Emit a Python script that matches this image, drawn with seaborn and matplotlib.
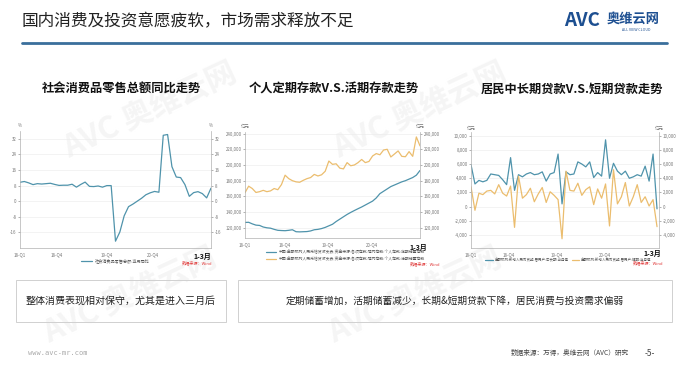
import numpy as np
import pandas as pd
import matplotlib.pyplot as plt
import seaborn as sns
from matplotlib.patches import Rectangle
from matplotlib.lines import Line2D

sns.set_style("white")
plt.rcParams['font.family'] = ['Noto Sans CJK SC', 'DejaVu Sans']

# ---- data ----
# chart 1: retail sales yoy (%), 18-Q1 .. 2022 Jan-Feb
retail_yoy = [9.7, 10.1, 9.4, 8.5, 9.0, 8.8, 9.0, 9.2, 8.6, 8.1, 8.2,
              8.2, 8.7, 7.2, 8.6, 9.8, 7.6, 7.5, 7.8, 7.2, 8.0, 8.0,
              -20.5, -15.8, -7.5, -2.8, -1.5, 0.0, 1.5, 3.3, 4.3, 5.0, 4.6,
              33.8, 34.2, 17.7, 12.4, 12.1, 8.5, 2.5, 4.4, 4.9, 3.9, 1.7, 6.7]
retail_ticks = [0, 8.5, 19.9, 30.7]

# chart 2: personal deposits (亿元)
time_dep = [126800, 127000, 125000, 123400, 123000, 121000, 120000, 119500, 118000, 116800, 116500, 116300,
            116800, 117500, 115000, 114800, 115000, 115200, 116000, 117500, 118000, 119000, 120500, 122500,
            124500, 128000, 131000, 134000, 137000, 139600, 142000, 144300, 146500, 149000, 151500, 154000,
            158000, 163500, 166500, 169500, 172500, 174500, 176500, 178500, 180000, 182000, 184000, 187000, 193000]
demand_dep = [164700, 173000, 170000, 165000, 166000, 167700, 166000, 167000, 170000, 168500, 175000, 187000,
              182600, 180000, 178500, 178000, 180500, 182600, 184000, 188000, 186000, 187500, 192000, 205000,
              200800, 201500, 196000, 195000, 203000, 199000, 200000, 203000, 207000, 203000, 204500, 211500,
              214500, 213000, 219000, 220000, 210200, 214000, 217900, 211000, 210500, 217000, 211000, 235700, 224300]
dep_ticks = [0, 10.8, 22.7, 34.7]

# chart 3: household new loans (亿元)
long_loan = [5900, 3200, 3700, 3500, 3700, 4600, 4500, 4400, 3800, 3100, 6900, 2300,
             4500, 4200, 4600, 4800, 4500, 4600, 4900, 3600, 4600, 4800, 7400, 400,
             4900, 4500, 4600, 6300, 6000, 5600, 6300, 4100, 4800, 4300, 9400, 4000,
             6100, 5000, 4500, 5000, 4000, 4200, 4500, 4300, 5700, 3600, 7400, -300]
short_loan = [2800, -500, 1900, 1700, 2200, 2300, 1800, 3100, 1900, 1500, 2900, -2900,
              4300, 1200, 1700, 2600, 700, 1800, 2700, 600, 2100, 1600, 1000, -4500,
              5000, 2300, 2200, 3300, 1600, 2400, 2800, 300, 2500, 1200, 3200, -2700,
              5200, 400, 1400, 3400, 100, 1400, 3100, 600, 1400, 100, 1000, -2800]
loan_ticks = [0, 9.6, 21.7, 33.8]

quarter_labels = ['18-Q1', '18-Q4', '19-Q4', '20-Q4']

W, H = 681, 367
BLUE = '#4f93ab'
ORANGE = '#ebbd6e'


def rect(x0, y0, x1, y1):
    # pixel box (top-left origin) -> figure fraction
    return [x0 / W, 1 - y1 / H, (x1 - x0) / W, (y1 - y0) / H]


def ft(x, y, s, **kw):
    fig.text(x / W, 1 - y / H, s, **kw)


def style_axis(ax, yticks, fmt, xticks):
    ax.patch.set_alpha(0)
    ax.set_yticks(yticks)
    ax.set_yticklabels([fmt(v) for v in yticks])
    ax.set_xticks(xticks)
    ax.set_xticklabels(quarter_labels)
    ax.tick_params(axis='y', labelsize=3.2, colors='#777', length=1.5, width=0.4,
                   left=True, right=True, labelleft=True, labelright=True, pad=1)
    ax.tick_params(axis='x', labelsize=3.2, colors='#777', length=1.5, width=0.4, pad=1.5)
    ax.grid(axis='y', color='#ebebeb', lw=0.4)
    for s in ['left', 'right', 'bottom']:
        ax.spines[s].set_color('#b0b0b0')
        ax.spines[s].set_linewidth(0.5)
    ax.spines['top'].set_visible(False)
    ax.set_xlabel('')
    ax.set_ylabel('')


fig = plt.figure(figsize=(6.81, 3.67), dpi=100)

# faint watermarks
for wx, wy in [(150, 110), (420, 110), (130, 295), (415, 295)]:
    ft(wx, wy, 'AVC 奥维云网', rotation=25, fontsize=22, fontweight='bold',
       color='#f5f5f5', ha='center', va='center', zorder=-5)

# header
ft(22, 22, '国内消费及投资意愿疲软，市场需求释放不足', fontsize=12, color='#222', va='center')
fig.add_artist(Line2D([22 / W, 667 / W], [1 - 43 / H] * 2, color='#3a6f9c', lw=2))
ft(564, 21, 'AVC', fontsize=13.5, fontweight='bold', color='#1d4f91', va='center', style='italic')
ft(607, 19, '奥维云网', fontsize=9.5, fontweight='bold', color='#1d4f91', va='center')
ft(636, 30, 'ALL VIEW CLOUD', fontsize=2.6, color='#1d4f91', va='center', ha='center')

# chart titles
ft(121, 89, '社会消费品零售总额同比走势', fontsize=8.8, fontweight='bold', ha='center', va='center', color='#111')
ft(334, 89, '个人定期存款V.S.活期存款走势', fontsize=8.8, fontweight='bold', ha='center', va='center', color='#111')
ft(572, 89, '居民中长期贷款V.S.短期贷款走势', fontsize=8.8, fontweight='bold', ha='center', va='center', color='#111')

# ---- chart 1 ----
ax1 = fig.add_axes(rect(20, 131, 211, 248))
x1 = np.arange(len(retail_yoy))
sns.lineplot(x=x1, y=retail_yoy, ax=ax1, color=BLUE, lw=0.9, label='社会消费品零售总额:当月同比')
ax1.set_xlim(0, len(retail_yoy) - 1)
ax1.set_ylim(-24, 36)
style_axis(ax1, [-16, -8, 0, 8, 16, 24, 32], lambda v: f'{v:d}', retail_ticks)
ax1.legend(loc='upper center', bbox_to_anchor=(0.5, -0.06), fontsize=3, frameon=False,
           handlelength=2.5, labelcolor='#555')
ft(20, 127, '%', fontsize=3.2, color='#777', ha='center')
ft(211, 127, '%', fontsize=3.2, color='#777', ha='center')
ft(211, 256, '1-3月', fontsize=5, fontweight='bold', ha='right', va='center', color='#111')
ft(212, 263, '数据来源：Wind', fontsize=3, ha='right', va='center', color='#e03c3c')

# ---- chart 2 ----
ax2 = fig.add_axes(rect(245, 132, 420, 238))
x2 = np.arange(len(time_dep))
sns.lineplot(x=x2, y=time_dep, ax=ax2, color=BLUE, lw=0.9,
             label='中国:金融机构人民币信贷收支表:资金来源:各项存款:境内存款:个人存款:定期储蓄存款')
sns.lineplot(x=x2, y=demand_dep, ax=ax2, color=ORANGE, lw=0.9,
             label='中国:金融机构人民币信贷收支表:资金来源:各项存款:境内存款:个人存款:活期储蓄存款')
ax2.set_xlim(0, len(time_dep) - 1)
ax2.set_ylim(107000, 242000)
style_axis(ax2, [120000, 140000, 160000, 180000, 200000, 220000, 240000], lambda v: f'{v:,d}', dep_ticks)
ax2.legend(loc='upper left', bbox_to_anchor=(0.1, -0.08), fontsize=2.8, frameon=False,
           handlelength=2.5, labelcolor='#555', labelspacing=0.6)
ft(245, 128, '亿元', fontsize=3.2, color='#777', ha='center')
ft(420, 128, '亿元', fontsize=3.2, color='#777', ha='center')
ft(427, 247, '1-3月', fontsize=5, fontweight='bold', ha='right', va='center', color='#111')
ft(440, 264, '数据来源：Wind', fontsize=3, ha='right', va='center', color='#e03c3c')

# ---- chart 3 ----
ax3 = fig.add_axes(rect(471, 132, 659, 248))
x3 = np.arange(len(long_loan))
sns.lineplot(x=x3, y=long_loan, ax=ax3, color=BLUE, lw=0.9,
             label='金融机构:新增人民币贷款:居民户:中长期:当月值')
sns.lineplot(x=x3, y=short_loan, ax=ax3, color=ORANGE, lw=0.9,
             label='金融机构:新增人民币贷款:居民户:短期:当月值')
ax3.set_xlim(0, len(long_loan) - 0.5)
ax3.set_ylim(-5800, 10500)
style_axis(ax3, [-4000, -2000, 0, 2000, 4000, 6000, 8000, 10000], lambda v: f'{v:,d}', loan_ticks)
ax3.legend(loc='upper left', bbox_to_anchor=(0.06, -0.055), fontsize=2.5, frameon=False, ncol=2,
           handlelength=2.2, labelcolor='#555', columnspacing=0.8, handletextpad=0.5)
ft(471, 130, '亿元', fontsize=3.2, color='#777', ha='center')
ft(659, 130, '亿元', fontsize=3.2, color='#777', ha='center')
ft(661, 253, '1-3月', fontsize=5, fontweight='bold', ha='right', va='center', color='#111')
ft(663, 263, '数据来源：Wind', fontsize=3, ha='right', va='center', color='#e03c3c')

# ---- bottom notes ----
for bx0, bx1 in [(16, 226), (238, 672)]:
    fig.add_artist(Rectangle((bx0 / W, 1 - 322 / H), (bx1 - bx0) / W, 42 / H, transform=fig.transFigure,
                             fill=False, edgecolor='#d0d0d0', lw=0.7))
ft(121, 301, '整体消费表现相对保守，尤其是进入三月后', fontsize=7.2, ha='center', va='center', color='#222')
ft(455, 301, '定期储蓄增加，活期储蓄减少，长期&短期贷款下降，居民消费与投资需求偏弱', fontsize=7,
   ha='center', va='center', color='#222')

# footer
ft(28, 353, 'www.avc-mr.com', fontsize=5, color='#aaa', va='center', family='DejaVu Sans Mono')
ft(629, 353, '数据来源：万得，奥维云网（AVC）研究', fontsize=4.8, color='#444', ha='right', va='center')
ft(650, 353, '-5-', fontsize=6, color='#444', ha='center', va='center')

fig.savefig('out.png', dpi=100)
